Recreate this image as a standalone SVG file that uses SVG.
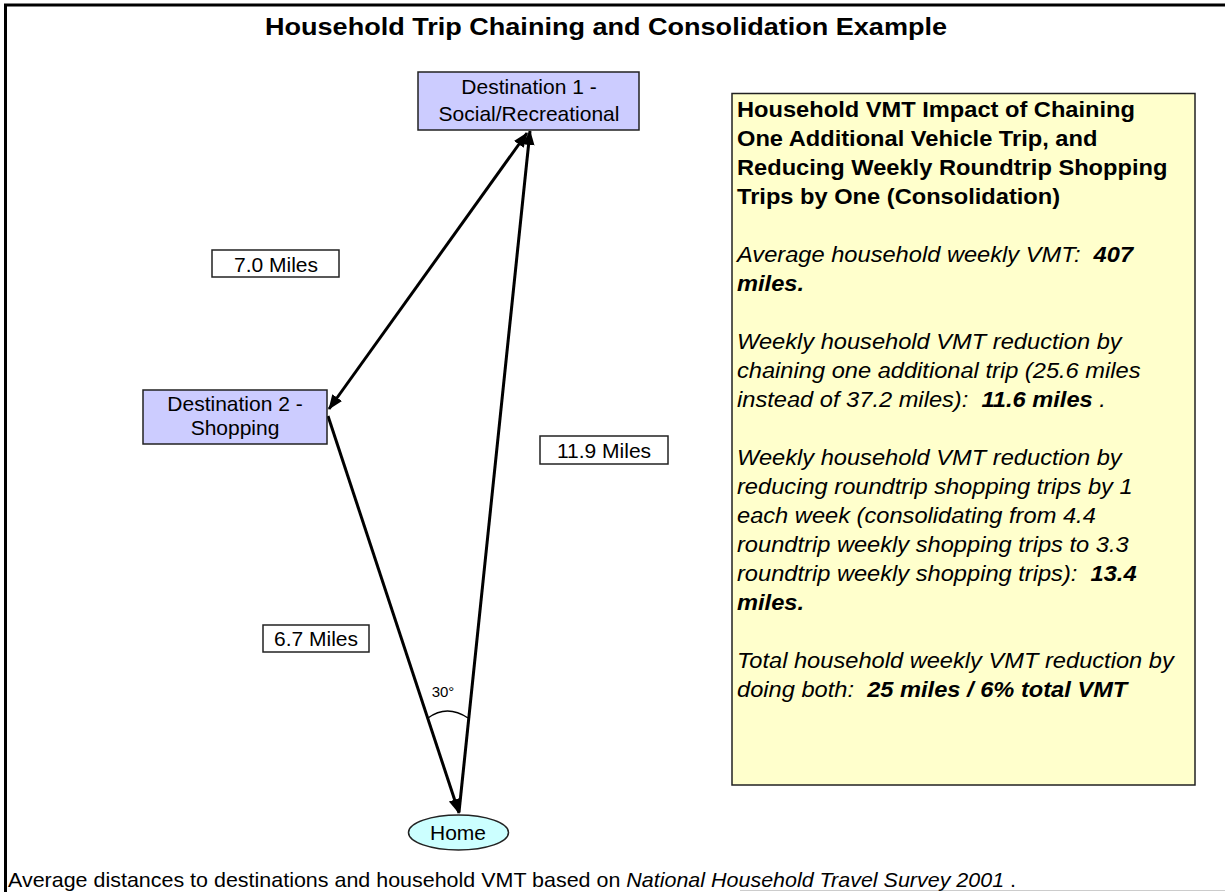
<svg xmlns="http://www.w3.org/2000/svg" width="1225" height="892" viewBox="0 0 1225 892">
<style>
text{font-family:"Liberation Sans",Arial,sans-serif;fill:#000;white-space:pre}
.lbl{font-size:21px;text-anchor:middle}
.box{fill:#ccccff;stroke:#222;stroke-width:1.5}
.mbox{fill:#fff;stroke:#222;stroke-width:1.5}
.conn{stroke:#000;stroke-width:3;fill:none}
.yt{font-size:21.5px;font-style:italic}
.up{font-style:normal}
.b{font-weight:bold}
</style>
<defs>
<marker id="ah" markerUnits="userSpaceOnUse" markerWidth="16" markerHeight="14" refX="14" refY="6" orient="auto-start-reverse" viewBox="0 0 16 12">
<path d="M0,0 L15,6 L0,12 Z" fill="#000"/>
</marker>
</defs>
<rect width="1225" height="892" fill="#fff"/>
<g id="frame">
<line x1="4" y1="5" x2="1225" y2="5" stroke="#000" stroke-width="3"/>
<line x1="5.5" y1="4" x2="5.5" y2="892" stroke="#000" stroke-width="3"/>
<line x1="740" y1="890.5" x2="1225" y2="890.5" stroke="#ccc" stroke-width="1"/>
</g>
<text id="title" x="606" y="35" font-size="23" font-weight="bold" text-anchor="middle" textLength="682" lengthAdjust="spacingAndGlyphs">Household Trip Chaining and Consolidation Example</text>
<g id="connectors">
<line class="conn" x1="527" y1="133" x2="329" y2="409" marker-start="url(#ah)" marker-end="url(#ah)"/>
<line class="conn" x1="328" y1="416" x2="459" y2="813" marker-end="url(#ah)"/>
<line class="conn" x1="459" y1="812" x2="530" y2="131" marker-end="url(#ah)"/>
<path d="M428,718 Q447,704 468,718" fill="none" stroke="#000" stroke-width="1.5"/>
</g>
<g id="dest1">
<rect class="box" x="418" y="72" width="221" height="58"/>
<text class="lbl" x="529" y="94">Destination 1 -</text>
<text class="lbl" x="529" y="121">Social/Recreational</text>
</g>
<g id="dest2">
<rect class="box" x="143" y="390" width="184" height="54"/>
<text class="lbl" x="235" y="411">Destination 2 -</text>
<text class="lbl" x="235" y="435">Shopping</text>
</g>
<g id="home">
<ellipse cx="458.5" cy="832.5" rx="50" ry="17.5" fill="#ccffff" stroke="#222" stroke-width="1.5"/>
<text class="lbl" x="458" y="840">Home</text>
</g>
<g id="label-7-0">
<rect class="mbox" x="212" y="250" width="127" height="27"/>
<text class="lbl" x="276" y="272">7.0 Miles</text>
</g>
<g id="label-11-9">
<rect class="mbox" x="540" y="436" width="128" height="28"/>
<text class="lbl" x="604" y="458">11.9 Miles</text>
</g>
<g id="label-6-7">
<rect class="mbox" x="263" y="625" width="106" height="27"/>
<text class="lbl" x="316" y="646">6.7 Miles</text>
</g>
<text id="angle" x="443" y="697" font-size="15" text-anchor="middle">30°</text>
<g id="impact-box">
<rect x="732" y="93.5" width="463" height="691.5" fill="#ffffcc" stroke="#222" stroke-width="1.5"/>
<g transform="translate(737 0) scale(1.1 1)">
<text class="yt up b" x="0" y="117">Household VMT Impact of Chaining</text>
<text class="yt up b" x="0" y="146">One Additional Vehicle Trip, and</text>
<text class="yt up b" x="0" y="175">Reducing Weekly Roundtrip Shopping</text>
<text class="yt up b" x="0" y="204">Trips by One (Consolidation)</text>
<text class="yt" x="0" y="262">Average household weekly VMT:  <tspan class="b">407</tspan></text>
<text class="yt b" x="0" y="291">miles.</text>
<text class="yt" x="0" y="349">Weekly household VMT reduction by</text>
<text class="yt" x="0" y="378">chaining one additional trip (25.6 miles</text>
<text class="yt" x="0" y="407">instead of 37.2 miles):  <tspan class="b">11.6 miles</tspan> .</text>
<text class="yt" x="0" y="465">Weekly household VMT reduction by</text>
<text class="yt" x="0" y="494">reducing roundtrip shopping trips by 1</text>
<text class="yt" x="0" y="523">each week (consolidating from 4.4</text>
<text class="yt" x="0" y="552">roundtrip weekly shopping trips to 3.3</text>
<text class="yt" x="0" y="581">roundtrip weekly shopping trips):  <tspan class="b">13.4</tspan></text>
<text class="yt b" x="0" y="610">miles.</text>
<text class="yt" x="0" y="668">Total household weekly VMT reduction by</text>
<text class="yt" x="0" y="697">doing both:  <tspan class="b">25 miles / 6% total VMT</tspan></text>
</g>
</g>
<text id="footer" x="8" y="887" font-size="21" textLength="1008" lengthAdjust="spacingAndGlyphs">Average distances to destinations and household VMT based on <tspan font-style="italic">National Household Travel Survey 2001</tspan> .</text>
</svg>
